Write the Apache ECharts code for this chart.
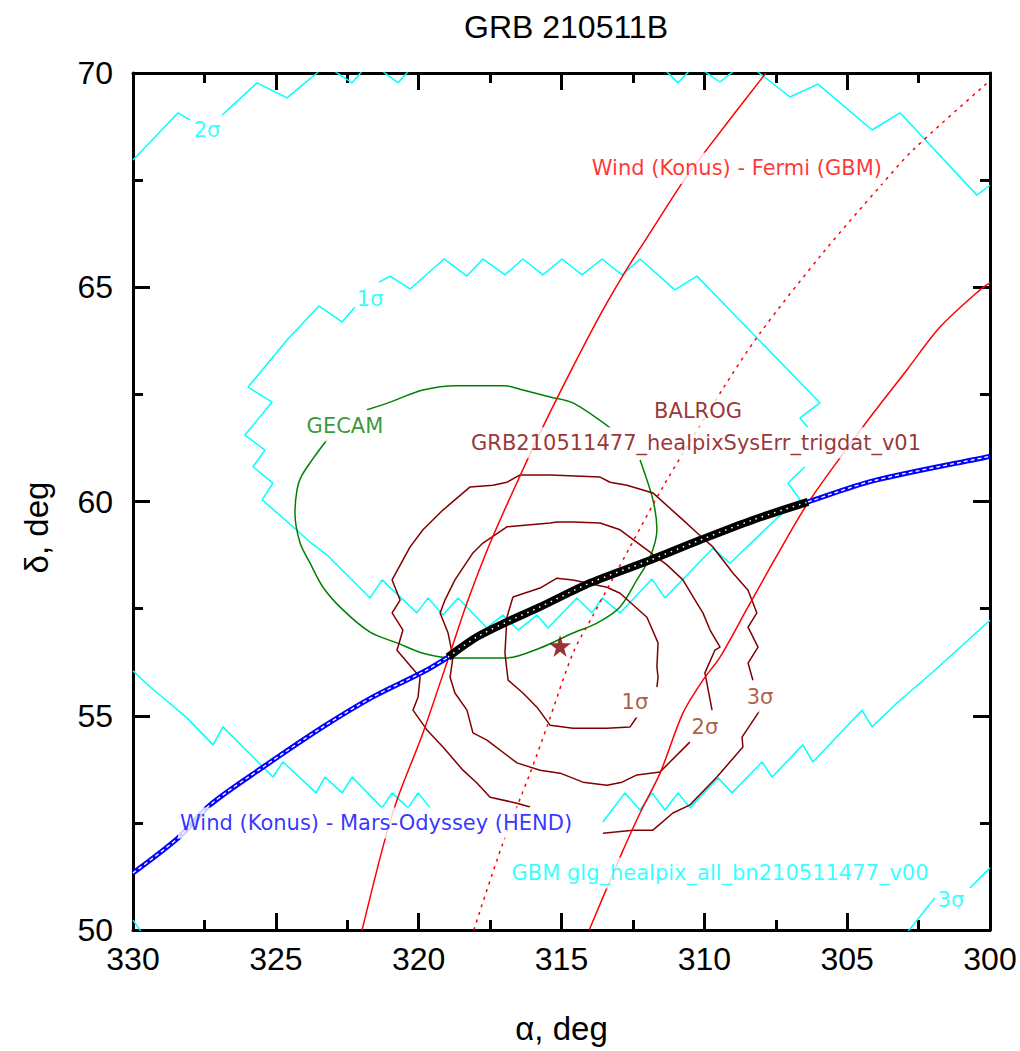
<!DOCTYPE html>
<html><head><meta charset="utf-8">
<script src="https://cdn.jsdelivr.net/npm/echarts@6/dist/echarts.min.js"></script>
<style>html,body{margin:0;padding:0;background:#fff}#c{width:1020px;height:1051px}</style>
</head><body><div id="c"></div>
<script>
// ---------- data (RA deg, Dec deg); null = break in the curve ----------
const xTickLabels = ['300','305','310','315','320','325','330'];
const yTickLabels = ['50','55','60','65','70'];

// GBM (cyan) contours
const gbmTop2s = [[330.00,67.97],[328.42,69.07],[328.00,68.90],null,[326.88,69.02],[326.50,69.25],[325.66,69.77],[324.61,69.42],[323.56,70.00],[323.28,70.19],[322.33,69.77],[321.70,70.26],[320.72,69.77],[319.95,70.35],[315.00,70.50],[311.73,70.30],[310.92,69.77],[310.33,70.19],[309.45,69.79],[308.58,70.26],[307.00,69.44],[306.02,69.74],[304.13,68.67],[303.15,69.07],[300.46,67.15],[300.00,67.38]];
const gbm1s = [[325.10,60.43],[325.80,60.81],[325.38,61.20],[326.08,61.55],[325.13,62.32],[325.97,62.67],[324.61,63.77],[323.49,64.56],[322.68,64.19],[322.23,64.54],null,[321.39,65.12],[321.00,65.26],[320.30,64.96],[319.11,65.66],[318.31,65.26],[317.75,65.66],[316.98,65.29],[316.35,65.66],[315.65,65.29],[314.98,65.66],[314.28,65.29],[313.58,65.66],[312.88,65.29],[312.25,65.66],[311.03,64.94],[310.26,65.26],[305.95,62.30],[306.65,61.95],[306.37,61.72],null,[306.48,60.81],[307.07,60.43],[306.65,60.04],[307.46,59.61],[309.10,58.56],[309.70,58.91],[311.38,57.75],[311.83,58.19],[312.95,57.40],[313.58,57.75],[313.93,57.40],[314.46,57.75],[315.47,57.05],[315.86,57.35],[316.52,57.00],[317.05,57.35],[317.61,57.05],[318.62,57.75],[319.15,57.35],[319.67,57.75],[320.06,57.40],[321.28,58.17],[321.70,57.75],[323.21,58.75],[323.80,59.05],[324.40,59.41],[325.48,60.04],[325.10,60.43]];
const gbmLow2s = [[330.00,56.05],[329.40,55.67],[328.77,55.32],[328.11,54.95],[327.20,54.32],[326.85,54.74],[325.10,53.57],[324.75,53.92],[323.59,53.20],[323.28,53.57],[322.68,53.20],[322.33,53.57],[321.28,52.85],[320.93,53.20],[320.37,52.85],[320.02,53.20],[319.60,52.85],null,[313.55,52.52],[312.78,53.20],[312.25,52.80],[311.83,53.20],[311.38,52.80],[310.92,53.20],[310.50,52.85],[309.52,53.55],[309.03,53.20],[307.98,53.92],[307.63,53.57],[306.55,54.32],[306.20,53.92],[304.48,55.13],[304.13,54.74],[303.22,55.32],[302.00,56.02],[300.00,57.23]];
const gbm3sRight = [[300.00,51.45],[300.70,50.98],null,[301.93,50.75],[302.95,49.90]];
const gbm3sLeft = [[330.00,50.23],[329.65,49.90]];

// BALROG (brown) contours
const balrog1s = [[316.70,57.77],[315.75,57.98],[315.16,58.21],[314.60,58.17],[313.41,58.00],[312.95,57.86],[312.01,57.30],[311.62,56.70],[311.66,56.14],[311.62,55.90],[311.66,55.67],null,[312.36,54.97],[312.60,54.74],[313.41,54.71],[314.60,54.71],[315.40,54.78],[315.86,55.20],[316.35,55.53],[316.87,55.83],[316.98,56.46],[316.91,57.30],[316.70,57.77]];
const balrog2s = [[315.40,59.50],[316.91,59.41],[317.75,59.03],[318.10,58.80],[318.73,58.17],[319.08,57.70],[319.25,57.40],[318.97,56.93],[318.80,56.37],[318.90,55.90],[318.73,55.53],[318.31,55.13],[318.10,54.60],[317.61,54.43],[316.56,53.90],[315.75,53.73],[315.05,53.66],[314.25,53.45],[313.41,53.38],[312.88,53.45],[312.36,53.62],[311.55,53.69],[310.50,54.39],null,[309.73,55.13],[309.91,55.76],[309.98,56.00],[309.63,56.53],[309.45,56.60],[309.80,57.00],[310.05,57.40],[310.26,57.63],[310.75,58.17],[311.31,58.52],[311.90,58.82],[312.95,59.34],[313.65,59.50],[314.60,59.52],[315.16,59.52],[315.40,59.50]];
const balrog3s = [[308.30,55.83],[308.47,56.23],[308.12,56.60],[308.47,57.07],[308.16,57.40],[308.47,57.93],[309.00,58.33],[309.70,58.94],[310.26,59.27],[310.75,59.57],[311.80,60.20],[312.71,60.38],[313.30,60.45],[313.65,60.57],[315.40,60.62],[316.45,60.62],[316.91,60.45],[317.40,60.38],[318.20,60.34],[318.66,60.08],[319.15,59.80],[319.85,59.34],[320.30,58.94],[320.93,58.17],[320.65,57.70],[320.93,57.40],[320.55,57.00],[320.76,56.53],[319.95,55.90],[320.02,55.44],[320.20,55.13],[319.71,54.67],[319.15,54.27],[318.45,53.73],[317.96,53.43],[317.50,53.10],[316.56,52.96],[316.10,52.87],null,[313.55,52.26],[312.50,52.33],[311.80,52.33],[311.10,52.73],[310.50,52.92],[309.56,53.57],[308.65,54.27],[308.68,54.50],[308.05,55.13]];
const balrogPeak = [[315.05,56.63]];

// GECAM (green) circle
const gecam = [[321.81,62.14],[321.00,62.32],[319.85,62.60],[318.66,62.70],[316.98,62.70],[316.35,62.60],[315.40,62.44],[314.60,62.30],[313.30,61.72],null,[312.25,60.97],[311.80,60.04],[311.66,59.34],[311.90,58.70],[312.36,58.17],[312.95,57.54],[313.76,57.16],[314.60,56.93],[315.75,56.58],[316.91,56.35],[318.80,56.35],[319.85,56.46],[320.76,56.70],[321.70,56.95],[322.65,57.47],[323.35,58.00],[323.80,58.56],[324.15,59.03],[324.33,59.73],[324.26,60.27],[324.12,60.57],[323.73,60.97],[323.21,61.44]];

// Wind (Konus) - Fermi (GBM) annulus (red)
const konusFermiInner = [[321.98,50.00],[321.25,51.94],[320.76,53.03],[319.85,54.60],[318.83,56.60],[318.31,57.63],[317.50,59.03],[316.52,60.50],[315.65,61.74],[314.60,63.14],[313.55,64.47],[312.67,65.47],[311.90,66.27],[310.78,67.43],[309.98,68.16],[307.95,69.91],[307.84,70.00]];
const konusFermiOuter = [[314.03,50.00],[312.95,51.70],[312.25,52.73],[311.55,53.66],[310.75,55.06],[310.05,55.83],[309.45,56.37],[308.47,57.54],[307.49,58.70],[306.37,59.97],[304.45,61.74],[302.91,63.07],[301.75,64.07],[300.35,64.94],[300.00,65.10]];
const konusFermiCenter = [[318.07,50.00],[317.05,52.03],[316.10,53.66],[315.51,54.74],[314.60,56.46],[313.93,57.30],[312.60,58.94],[311.45,60.34],[309.38,62.60],[308.05,63.93],[305.85,65.80],[303.75,67.43],[302.70,68.20],[300.18,69.72],[300.00,69.81]];

// Wind (Konus) - Mars-Odyssey (HEND) annulus (blue) and the intersection (black)
const konusHend = [[330.00,51.33],[328.42,52.15],[327.30,52.92],[325.45,53.80],[323.35,54.74],[321.60,55.44],[319.85,56.02],[318.97,56.37],[317.96,56.84],[316.91,57.19],[315.75,57.54],[314.00,58.10],[311.90,58.63],[310.15,59.10],[308.30,59.57],[306.37,59.99],[304.10,60.48],[300.11,61.04],[300.00,61.06]];
const intersection = [[318.97,56.37],[317.96,56.84],[316.91,57.19],[315.75,57.54],[314.00,58.10],[311.90,58.63],[310.15,59.10],[308.30,59.57],[306.37,59.99]];

// in-plot annotations: text and anchor (RA, Dec)
const noteTexts = ['2σ','1σ','GECAM','BALROG','GRB210511477_healpixSysErr_trigdat_v01','Wind (Konus) - Fermi (GBM)','Wind (Konus) - Mars-Odyssey (HEND)','GBM glg_healpix_all_bn210511477_v00','1σ','2σ','3σ','3σ'];
const noteAnchors = [[327.41,68.67],[321.70,64.73],[322.58,61.76],[310.22,62.11],[310.29,61.37],[308.86,67.78],[321.49,52.50],[309.45,51.33],[312.43,55.32],[309.98,54.74],[308.05,55.44],[301.37,50.70]];

// ---------- styling ----------
const CYAN='#00ffff', BROWN='#800000', GREEN='#008000', RED='#ff0000', BLUE='#0000ff';
const noteColors = [CYAN,CYAN,GREEN,BROWN,BROWN,RED,BLUE,CYAN,'#9a3412','#9a3412','#9a3412',CYAN];
const plotFont = "'DejaVu Sans', sans-serif";
const tickFont = "'Liberation Sans', Arial, sans-serif";
const mainFont = "'Liberation Sans', Arial, sans-serif";

const fix = arr => arr.map(p => p === null ? ['-','-'] : p);
function line(data, color, width, opts) {
  return Object.assign({
    type:'line', data: fix(data), showSymbol:false, symbol:'none', connectNulls:false,
    lineStyle:{color:color, width:width}, z:2, silent:true, clip:true, animation:false
  }, opts||{});
}

const axisCommon = {
  type:'value', splitLine:{show:false},
  axisLine:{show:true, onZero:false, lineStyle:{color:'#000', width:3}},
  axisTick:{show:true, inside:true, length:17, lineStyle:{color:'#000', width:3}},
  minorTick:{show:true, splitNumber:2, length:10, lineStyle:{color:'#000', width:3}}
};

const option = {
  animation:false,
  backgroundColor:'#fff',
  title:{text:'GRB 210511B', left:561, top:6, textAlign:'center',
    textStyle:{fontSize:32, fontWeight:'normal', fontFamily:mainFont, color:'#000'}},
  grid:{left:133, right:30, top:73, bottom:121, containLabel:false},
  xAxis:[
    Object.assign({}, axisCommon, {min:300, max:330, interval:5, inverse:true, position:'bottom',
      axisLabel:{show:true, margin:13, fontSize:32, fontFamily:tickFont, color:'#000',
        formatter:v => xTickLabels.includes(String(v)) ? String(v) : ''},
      name:'α, deg', nameLocation:'middle', nameGap:82,
      nameTextStyle:{fontSize:33, fontFamily:mainFont, color:'#000'}}),
    Object.assign({}, axisCommon, {min:300, max:330, interval:5, inverse:true, position:'top',
      axisLabel:{show:false}})
  ],
  yAxis:[
    Object.assign({}, axisCommon, {min:50, max:70, interval:5, position:'left',
      axisLabel:{show:true, margin:20, fontSize:32, fontFamily:tickFont, color:'#000',
        formatter:v => yTickLabels.includes(String(v)) ? String(v) : ''},
      name:'δ, deg', nameLocation:'middle', nameGap:80, nameRotate:90,
      nameTextStyle:{fontSize:33, fontFamily:mainFont, color:'#000', padding:[0,52,0,0]}}),
    Object.assign({}, axisCommon, {min:50, max:70, interval:5, position:'right',
      axisLabel:{show:false}})
  ],
  series:[
    line(gbmTop2s, CYAN, 1.5),
    line(gbm1s, CYAN, 1.5),
    line(gbmLow2s, CYAN, 1.5),
    line(gbm3sRight, CYAN, 1.5),
    line(gbm3sLeft, CYAN, 1.5),
    line(gecam, GREEN, 1.5, {smooth:0.3}),
    line(balrog1s, BROWN, 1.5),
    line(balrog2s, BROWN, 1.5),
    line(balrog3s, BROWN, 1.5),
    line(konusFermiInner, RED, 1.5, {smooth:0.3}),
    line(konusFermiOuter, RED, 1.5, {smooth:0.3}),
    line(konusFermiCenter, RED, 1.5, {smooth:0.3, lineStyle:{color:RED, width:1.5, type:[3,5]}}),
    line(konusHend, BLUE, 5, {smooth:0.3, z:3}),
    line(konusHend, '#ffffff', 1.3, {smooth:0.3, z:3, lineStyle:{color:'#ffffff', width:1.3, type:[4,3]}}),
    line(intersection, '#000', 8, {smooth:0.3, z:4}),
    line(intersection, '#fff', 1.5, {smooth:0.3, z:4, lineStyle:{color:'#ffffff', width:1.5, type:[1.5,5]}}),
    {type:'scatter', data:balrogPeak, z:6, silent:true, animation:false,
      symbol:'path://M50,0 L61,35 L98,35 L68,57 L79,91 L50,70 L21,91 L32,57 L2,35 L39,35 Z',
      symbolSize:22, itemStyle:{color:BROWN}},
    {type:'scatter', z:5, silent:true, animation:false, symbolSize:1,
      itemStyle:{color:'rgba(0,0,0,0)'},
      data: noteTexts.map((t,i) => ({
        value: noteAnchors[i],
        label:{show:true, position:'inside', formatter:t, color:noteColors[i],
          fontSize:21, fontFamily:plotFont, backgroundColor:'#ffffff', padding:[5,2]}
      }))}
  ]
};
const chart = echarts.init(document.getElementById('c'), null, {renderer:'svg', width:1020, height:1051});
chart.setOption(option);
</script>
</body></html>
